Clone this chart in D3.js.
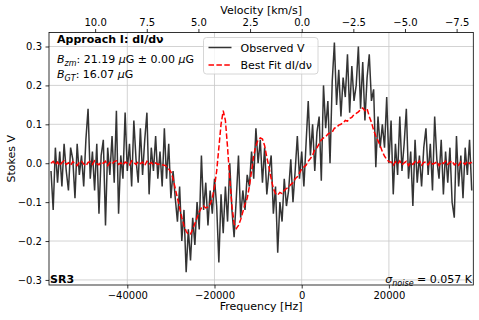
<!DOCTYPE html>
<meta charset="utf-8">
<body>
<script src="https://cdn.jsdelivr.net/npm/d3@7"></script>
<style>
    html, body {
        margin: 0;
        background: #fff;
    }
    text {
        font-family: "DejaVu Sans", sans-serif;
    }
</style>
<script>
// channel grid: first channel and spacing in Hz
var freqStart = -57500,
    freqStep = 500;

var observedV = [
    -0.02, -0.12, 0.04, -0.05, 0.03, -0.06, 0.05, -0.02, -0.07, 0.04,
    0.01, -0.09, 0.05, -0.03, 0.02, -0.06, 0.06, 0.14, -0.04, 0.03,
    -0.07, 0.05, -0.13, 0.02, 0.06, -0.16, 0.04, -0.03, 0.07, -0.05,
    0.135, -0.13, 0.02, -0.04, 0.13, -0.02, 0.05, -0.06, 0.11, 0.01,
    -0.05, 0.09, -0.03, 0.06, 0.13, -0.08, 0.04, -0.02, 0.07, -0.04,
    0.03, -0.06, 0.09, -0.04, 0.05, -0.09, -0.02, -0.09, -0.15, -0.06,
    -0.2, -0.12, -0.28, -0.17, -0.25, -0.14, -0.21, -0.1, -0.17, 0.02,
    -0.12, -0.05, -0.16, -0.07, -0.13, -0.04, -0.11, -0.255, -0.08, -0.18,
    -0.06, -0.15, 0.0, -0.12, -0.19, -0.09, 0.02, -0.14, -0.07, -0.12,
    -0.03, -0.06, 0.03, -0.04, 0.09, 0.0, 0.06, -0.05, 0.04, -0.08,
    -0.02, 0.02, -0.13, -0.06, -0.23, -0.1, -0.15, -0.04, -0.11, -0.07,
    0.01, -0.1, -0.02, 0.07, -0.04, 0.03, -0.06, 0.05, 0.16, 0.02,
    0.1, -0.02, 0.08, 0.12, -0.045, 0.2, 0.09, 0.16, 0.0, 0.21,
    0.31, 0.15, 0.24, 0.12, 0.22, 0.17, 0.28, 0.13, 0.25, 0.16,
    0.2, 0.3, 0.14, 0.26, 0.11, 0.22, 0.28, 0.16, 0.19, -0.01,
    0.12, 0.04, 0.1, 0.04, 0.17, 0.0, 0.11, -0.08, 0.05, -0.03,
    0.12, -0.02, 0.05, 0.14, -0.04, 0.03, -0.11, 0.06, -0.05, 0.02,
    -0.06, 0.04, 0.09, -0.03, 0.05, -0.07, 0.12, 0.01, -0.04, 0.06,
    -0.08, 0.03, -0.05, 0.04, -0.1, -0.14, 0.07, -0.06, 0.02, -0.09,
    0.04, -0.03, 0.06, -0.07
];

var bestFit = [
    0.0, 0.005, -0.004, 0.003, -0.006, 0.002, 0.006, -0.003, 0.001, -0.005,
    0.004, 0.0, -0.006, 0.003, 0.005, -0.002, -0.007, 0.002, 0.004, -0.003,
    0.006, -0.001, -0.004, 0.003, 0.0, 0.005, -0.006, 0.002, -0.002, 0.004,
    0.006, -0.003, 0.001, -0.005, 0.003, 0.0, -0.004, 0.006, 0.002, -0.003,
    0.004, -0.001, 0.003, -0.006, 0.005, -0.002, 0.002, -0.004, 0.001, -0.003,
    -0.002, -0.004, -0.005, -0.008, -0.015, -0.022, -0.04, -0.065, -0.09, -0.115,
    -0.14, -0.16, -0.175, -0.183, -0.182, -0.17, -0.155, -0.14, -0.125, -0.115,
    -0.11, -0.115, -0.112, -0.105, -0.09, -0.06, -0.02, 0.04, 0.1, 0.135,
    0.11, 0.04, -0.04, -0.11, -0.155, -0.168, -0.16, -0.145, -0.125, -0.105,
    -0.09, -0.06, -0.02, 0.02, 0.045, 0.06, 0.065, 0.062, 0.045, 0.015,
    -0.01, -0.04, -0.065, -0.078, -0.082, -0.075, -0.078, -0.07, -0.065, -0.062,
    -0.055, -0.05, -0.04, -0.035, -0.025, -0.015, -0.01, -0.005, 0.005, 0.012,
    0.02, 0.035, 0.04, 0.05, 0.06, 0.065, 0.068, 0.075, 0.078, 0.08,
    0.09, 0.092, 0.098, 0.1, 0.104, 0.11, 0.108, 0.115, 0.118, 0.125,
    0.128, 0.132, 0.138, 0.142, 0.135, 0.14, 0.12, 0.105, 0.085, 0.07,
    0.058, 0.045, 0.03, 0.018, 0.01, 0.004, 0.003, -0.005, 0.004, -0.002,
    0.006, -0.004, 0.001, 0.005, -0.006, 0.002, -0.003, 0.004, -0.001, 0.006,
    -0.005, 0.002, 0.003, -0.004, 0.005, -0.002, 0.0, 0.004, -0.006, 0.003,
    -0.001, 0.005, -0.003, 0.002, 0.006, -0.004, 0.001, -0.005, 0.004, 0.002,
    -0.003, 0.005, -0.001, 0.003
];

var yTicks = [-0.3, -0.2, -0.1, 0, 0.1, 0.2, 0.3],
    freqTicks = [-40000, -20000, 0, 20000],
    velTicks = [10, 7.5, 5, 2.5, 0, -2.5, -5, -7.5];

var restFreq = 1420405751.77,
    cLight = 299792.458;

var width = 479, height = 320,
    plotL = 49, plotR = 473.3, plotT = 32.5, plotB = 285;

var freqDomain = [-57960, 39360];

var x = d3.scaleLinear().domain(freqDomain).range([plotL, plotR]),
    xv = d3.scaleLinear()
        .domain(freqDomain.map(function(f) { return -cLight * f / restFreq; }))
        .range([plotL, plotR]),
    y = d3.scaleLinear().domain([-0.313, 0.336]).range([plotB, plotT]);

var minus = function(s) { return s.replace("-", "\u2212"); };

var svg = d3.select("body").append("svg")
    .attr("width", width)
    .attr("height", height);

svg.append("clipPath").attr("id", "clip")
    .append("rect")
    .attr("x", plotL).attr("y", plotT)
    .attr("width", plotR - plotL).attr("height", plotB - plotT);

// grid
svg.append("g").selectAll("line")
    .data(freqTicks).enter().append("line")
    .attr("x1", function(d) { return x(d); })
    .attr("x2", function(d) { return x(d); })
    .attr("y1", plotT).attr("y2", plotB)
    .attr("stroke", "#c8c8c8").attr("stroke-width", 0.8);

svg.append("g").selectAll("line")
    .data(yTicks).enter().append("line")
    .attr("x1", plotL).attr("x2", plotR)
    .attr("y1", function(d) { return y(d); })
    .attr("y2", function(d) { return y(d); })
    .attr("stroke", "#c8c8c8").attr("stroke-width", 0.8);

// data
var obs = observedV.map(function(v, i) { return [freqStart + i * freqStep, v]; }),
    fit = bestFit.map(function(v, i) { return [freqStart + i * freqStep, v]; });

var line = d3.line()
    .x(function(d) { return x(d[0]); })
    .y(function(d) { return y(d[1]); });

var plot = svg.append("g").attr("clip-path", "url(#clip)");

plot.append("path")
    .datum(obs)
    .attr("d", line)
    .attr("fill", "none")
    .attr("stroke", "#111")
    .attr("stroke-opacity", 0.85)
    .attr("stroke-width", 1.5);

plot.append("path")
    .datum(fit)
    .attr("d", line)
    .attr("fill", "none")
    .attr("stroke", "#ff0000")
    .attr("stroke-width", 1.5)
    .attr("stroke-dasharray", "5.5,2.4");

// axes
svg.append("g")
    .attr("transform", "translate(0," + plotB + ")")
    .call(d3.axisBottom(x).tickValues(freqTicks).tickSize(3.5).tickPadding(3.5)
        .tickFormat(function(d) { return minus(String(d)); }));

svg.append("g")
    .attr("transform", "translate(0," + plotT + ")")
    .call(d3.axisTop(xv).tickValues(velTicks).tickSize(3.5).tickPadding(3.5)
        .tickFormat(function(d) { return minus(d3.format(".1f")(d)); }));

svg.append("g")
    .attr("transform", "translate(" + plotL + ",0)")
    .call(d3.axisLeft(y).tickValues(yTicks).tickSize(3.5).tickPadding(3.5)
        .tickFormat(function(d) { return minus(d3.format(".1f")(d)); }));

svg.selectAll(".domain").remove();
svg.selectAll(".tick line").attr("stroke", "#000").attr("stroke-width", 0.8);
svg.selectAll(".tick text")
    .attr("font-family", "DejaVu Sans, sans-serif")
    .attr("font-size", 10)
    .attr("fill", "#000");

svg.append("rect")
    .attr("x", plotL).attr("y", plotT)
    .attr("width", plotR - plotL).attr("height", plotB - plotT)
    .attr("fill", "none")
    .attr("stroke", "#000")
    .attr("stroke-width", 0.8);

// axis titles
svg.append("text")
    .attr("x", (plotL + plotR) / 2).attr("y", 310)
    .attr("text-anchor", "middle")
    .attr("font-size", 11)
    .text("Frequency [Hz]");

svg.append("text")
    .attr("x", (plotL + plotR) / 2).attr("y", 14)
    .attr("text-anchor", "middle")
    .attr("font-size", 11)
    .text("Velocity [km/s]");

svg.append("text")
    .attr("transform", "translate(15," + (plotT + plotB) / 2 + ") rotate(-90)")
    .attr("text-anchor", "middle")
    .attr("font-size", 11)
    .text("Stokes V");

// annotations
svg.append("text")
    .attr("x", 57).attr("y", 43)
    .attr("font-size", 11)
    .attr("font-weight", "bold")
    .text("Approach I: dI/d\u03bd");

var bzm = svg.append("text").attr("x", 57).attr("y", 63).attr("font-size", 11);
bzm.append("tspan").attr("font-style", "italic").text("B");
bzm.append("tspan").attr("font-style", "italic").attr("font-size", 8).attr("dy", 3).text("zm");
bzm.append("tspan").attr("dy", -3).text(": 21.19 ");
bzm.append("tspan").attr("font-style", "italic").text("\u03bc");
bzm.append("tspan").text("G \u00b1 0.00 ");
bzm.append("tspan").attr("font-style", "italic").text("\u03bc");
bzm.append("tspan").text("G");

var bgt = svg.append("text").attr("x", 57).attr("y", 78).attr("font-size", 11);
bgt.append("tspan").attr("font-style", "italic").text("B");
bgt.append("tspan").attr("font-style", "italic").attr("font-size", 8).attr("dy", 3).text("GT");
bgt.append("tspan").attr("dy", -3).text(": 16.07 ");
bgt.append("tspan").attr("font-style", "italic").text("\u03bc");
bgt.append("tspan").text("G");

svg.append("text")
    .attr("x", 50).attr("y", 283)
    .attr("font-size", 11)
    .attr("font-weight", "bold")
    .text("SR3");

var sig = svg.append("text")
    .attr("x", 472).attr("y", 283)
    .attr("text-anchor", "end")
    .attr("font-size", 11);
sig.append("tspan").attr("font-style", "italic").text("\u03c3");
sig.append("tspan").attr("font-style", "italic").attr("font-size", 8).attr("dy", 3).text("noise");
sig.append("tspan").attr("dy", -3).text(" = 0.057 K");

// legend
var legend = svg.append("g");
legend.append("rect")
    .attr("x", 203.5).attr("y", 37.5)
    .attr("width", 114.5).attr("height", 36.5)
    .attr("rx", 3)
    .attr("fill", "#fff").attr("fill-opacity", 0.8)
    .attr("stroke", "#ccc").attr("stroke-width", 0.8);

var items = [
    {label: "Observed V", color: "#111", dash: null, op: 0.85},
    {label: "Best Fit dI/d\u03bd", color: "#ff0000", dash: "5.5,2.4", op: 1}
];

items.forEach(function(d, i) {
    var yy = 47.5 + i * 17.5;
    legend.append("line")
        .attr("x1", 208.5).attr("x2", 231.5)
        .attr("y1", yy).attr("y2", yy)
        .attr("stroke", d.color)
        .attr("stroke-opacity", d.op)
        .attr("stroke-width", 1.5)
        .attr("stroke-dasharray", d.dash);
    legend.append("text")
        .attr("x", 240.5).attr("y", yy + 4)
        .attr("font-size", 11)
        .text(d.label);
});
</script>
